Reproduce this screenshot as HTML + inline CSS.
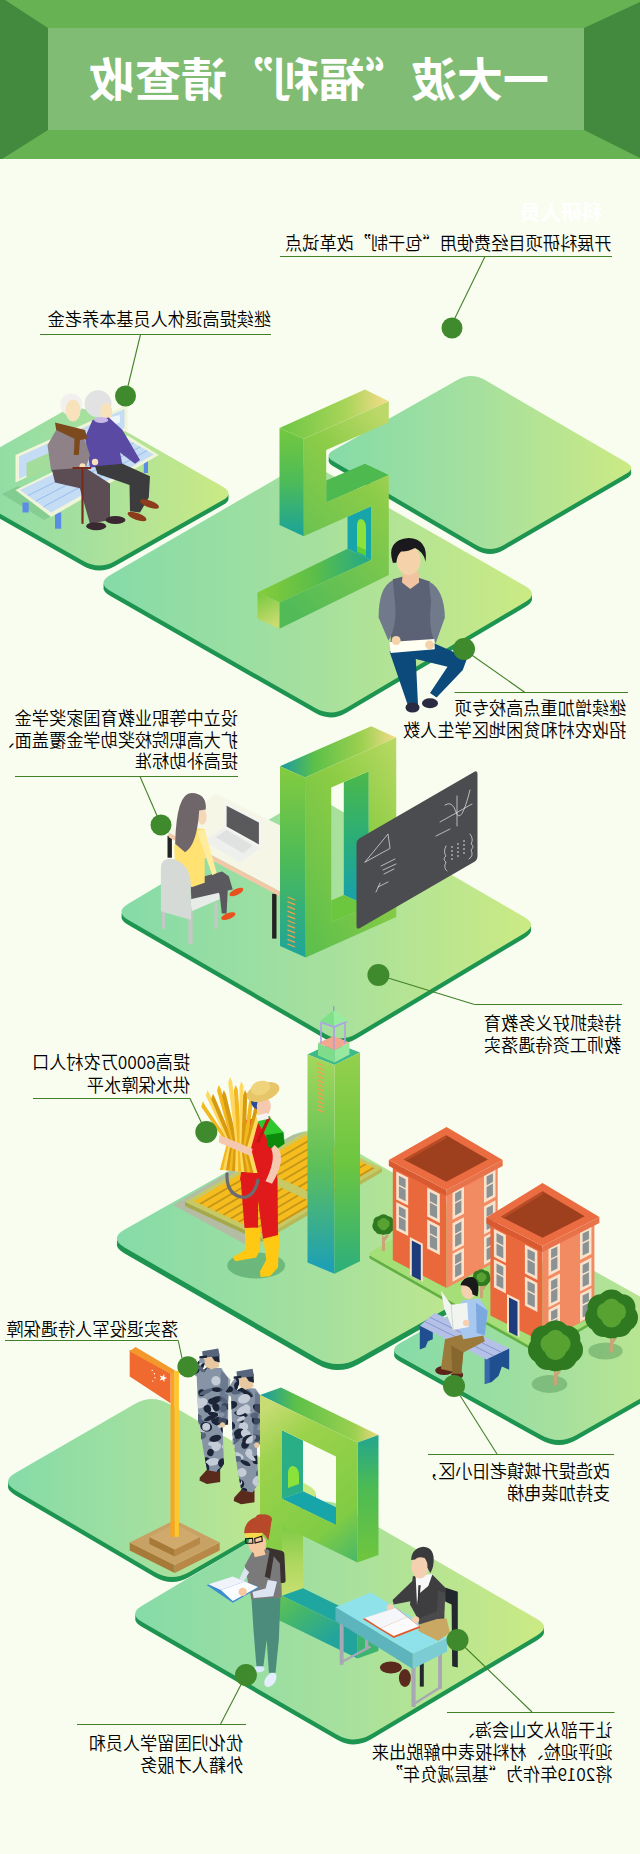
<!DOCTYPE html>
<html lang="zh"><head><meta charset="utf-8"><title>一大波“福利”请查收</title>
<style>
html,body{margin:0;padding:0;background:#f9fdf0;}
body{width:640px;height:1854px;overflow:hidden;position:relative;font-family:"Liberation Sans","Noto Sans CJK SC",sans-serif;}
svg{display:block;position:absolute;left:0;top:0;}
svg text{font-family:"Liberation Sans","Noto Sans CJK SC",sans-serif;}
svg text .q{font-family:"Noto Sans CJK SC",sans-serif;}
</style></head><body>
<svg width="640" height="1854" viewBox="0 0 640 1854">
<defs>
<linearGradient id="pg" x1="0" y1="0" x2="1" y2="0"><stop offset="0" stop-color="#86dba8"/><stop offset="0.5" stop-color="#a6e09e"/><stop offset="1" stop-color="#cbea84"/></linearGradient>
<linearGradient id="g2" x1="0.8" y1="0" x2="0.3" y2="1"><stop offset="0" stop-color="#bcd868"/><stop offset="0.3" stop-color="#8ccc48"/><stop offset="1" stop-color="#52bb58"/></linearGradient>
<linearGradient id="g3" x1="0" y1="0" x2="1" y2="0"><stop offset="0" stop-color="#6cc644"/><stop offset="0.6" stop-color="#a8d458"/><stop offset="1" stop-color="#f6dc8c"/></linearGradient>
<linearGradient id="g4" x1="0" y1="0" x2="0" y2="1"><stop offset="0" stop-color="#74c83e"/><stop offset="0.5" stop-color="#4dbb58"/><stop offset="1" stop-color="#1aa39a"/></linearGradient>
<linearGradient id="g5" x1="0" y1="0" x2="1" y2="0"><stop offset="0" stop-color="#86cc3a"/><stop offset="0.5" stop-color="#5cbe48"/><stop offset="1" stop-color="#22a888"/></linearGradient>
<linearGradient id="g6" x1="0" y1="0" x2="0.3" y2="1"><stop offset="0" stop-color="#74c83c"/><stop offset="1" stop-color="#c8dc70"/></linearGradient>
<linearGradient id="g7" x1="0.9" y1="0" x2="0.2" y2="1"><stop offset="0" stop-color="#b4d860"/><stop offset="0.4" stop-color="#8ccc44"/><stop offset="1" stop-color="#60c04c"/></linearGradient>
<linearGradient id="g8" x1="0" y1="0" x2="1" y2="0"><stop offset="0" stop-color="#1a9aa4"/><stop offset="0.3" stop-color="#5cc048"/><stop offset="0.7" stop-color="#9cd050"/><stop offset="1" stop-color="#f2dc88"/></linearGradient>
<linearGradient id="g9" x1="0" y1="0" x2="0" y2="1"><stop offset="0" stop-color="#84cc3e"/><stop offset="0.5" stop-color="#4cba58"/><stop offset="1" stop-color="#1ea49a"/></linearGradient>
<linearGradient id="g10" x1="0" y1="0" x2="0" y2="1"><stop offset="0" stop-color="#4cb848"/><stop offset="0.5" stop-color="#2aae78"/><stop offset="1" stop-color="#179fb0"/></linearGradient>
<linearGradient id="g11" x1="0" y1="0" x2="0" y2="1"><stop offset="0" stop-color="#a4d85c"/><stop offset="0.5" stop-color="#5ec058"/><stop offset="1" stop-color="#1a9eba"/></linearGradient>
<linearGradient id="g12" x1="0" y1="0" x2="0" y2="1"><stop offset="0" stop-color="#94d04c"/><stop offset="0.5" stop-color="#6cc640"/><stop offset="1" stop-color="#2cae7c"/></linearGradient>
<clipPath id="sc1"><polygon points="199.4,1421.6 222.5,1424.4 223.9,1463.7 218.3,1472.2 207,1469.9 202.8,1446.9"/><polygon points="196.6,1373.7 207,1367.6 221.1,1368.1 228.1,1378 228.1,1424.4 198.6,1424.4"/><polygon points="221.1,1370.9 230.4,1379.4 225.9,1424.4 218.3,1423"/><polygon points="190.4,1372.6 201.4,1356.9 206.2,1359.7 199.4,1378"/></clipPath>
<clipPath id="sc2"><polygon points="233.7,1441.8 256.8,1444.6 258.2,1484 252.6,1492.4 241.3,1490.2 237.1,1467.1"/><polygon points="230.9,1394 241.3,1387.8 255.4,1388.4 262.4,1398.2 262.4,1444.6 232.9,1444.6"/><polygon points="255.4,1391.2 264.7,1399.6 260.2,1444.6 252.6,1443.2"/><polygon points="224.7,1392.9 235.7,1377.1 240.5,1379.9 233.7,1398.2"/></clipPath>
<linearGradient id="g13" x1="0.1" y1="0" x2="0.6" y2="1"><stop offset="0" stop-color="#c4dc70"/><stop offset="0.3" stop-color="#9cd24c"/><stop offset="1" stop-color="#66c244"/></linearGradient>
<linearGradient id="g14" x1="0" y1="0" x2="1" y2="0"><stop offset="0" stop-color="#1a9aa4"/><stop offset="0.3" stop-color="#5cc048"/><stop offset="0.8" stop-color="#9cd050"/><stop offset="1" stop-color="#ecd880"/></linearGradient>
<linearGradient id="g15" x1="0" y1="0" x2="0" y2="1"><stop offset="0" stop-color="#22a68e"/><stop offset="0.4" stop-color="#4cba54"/><stop offset="1" stop-color="#70c63e"/></linearGradient>
<linearGradient id="g16" x1="0" y1="0" x2="0" y2="1"><stop offset="0" stop-color="#74c840"/><stop offset="0.6" stop-color="#b0d860"/><stop offset="1" stop-color="#c8e070"/></linearGradient>
<linearGradient id="g17" x1="0.2" y1="0" x2="0.5" y2="1"><stop offset="0" stop-color="#c8dc74"/><stop offset="0.2" stop-color="#9cd24c"/><stop offset="0.6" stop-color="#80cc44"/><stop offset="0.8" stop-color="#48b868"/><stop offset="1" stop-color="#22a49c"/></linearGradient>
</defs>
<rect x="0" y="0" width="640" height="159" fill="#67b252"/>
<rect x="48" y="28" width="536" height="102" fill="#80bc74"/>
<polygon points="0,0 5,0 48,28 48,130 2,159 0,159" fill="#43893e"/>
<polygon points="584,28 640,2 640,158 584,130" fill="#43893e"/>
<text transform="translate(319,96) scale(-1,1)" font-size="46" font-weight="700" fill="#fff" text-anchor="middle">一大波<tspan class="q">“</tspan>福利<tspan class="q">”</tspan>请查收</text>
<path d="M333.3 466.3Q323.8 460.7 333.4 455.3L457.3 384.9Q471.2 377 485.1 385.1L626.5 467.5Q636 473 626.5 478.5L503.8 549.9Q490 558 476.2 549.9ZM333.3 463.8Q323.8 458.2 333.4 452.8L457.3 382.4Q471.2 374.5 485.1 382.6L626.5 465Q636 470.5 626.5 476L503.8 547.4Q490 555.5 476.2 547.4Z" fill="#1d9450"/>
<path d="M333.3 461.3Q323.8 455.7 333.4 450.3L457.3 379.9Q471.2 372 485.1 380.1L626.5 462.5Q636 468 626.5 473.5L503.8 544.9Q490 553 476.2 544.9Z" fill="url(#pg)"/>
<path d="M-46.5 492.2Q-58.7 485.3 -46.5 478.4L61.3 417.5Q77 408.7 92.6 417.6L222.5 491.5Q234.7 498.4 222.5 505.3L114.7 566.2Q99 575 83.4 566.1ZM-46.5 489.7Q-58.7 482.8 -46.5 475.9L61.3 415Q77 406.2 92.6 415.1L222.5 489Q234.7 495.9 222.5 502.8L114.7 563.7Q99 572.5 83.4 563.6Z" fill="#1d9450"/>
<path d="M-46.5 487.2Q-58.7 480.3 -46.5 473.4L61.3 412.5Q77 403.7 92.6 412.6L222.5 486.5Q234.7 493.4 222.5 500.3L114.7 561.2Q99 570 83.4 561.1Z" fill="url(#pg)"/>
<polygon points="2,494 18,486 62,510 44,520" fill="#6cb87c" opacity="0.45"/>
<rect x="22.5" y="502.5" width="6.2" height="10" fill="#5c8ce4"/>
<rect x="55" y="512.5" width="6.2" height="16.2" fill="#5c8ce4"/>
<rect x="143.8" y="460" width="4.2" height="13" fill="#5c8ce4"/>
<rect x="123.8" y="445" width="3.8" height="10" fill="#5c8ce4"/>
<polygon points="15.5,455 127.5,404.5 127.5,430 15.5,482.5" fill="#f0f4d8"/>
<polygon points="19,456.5 124.5,409 124.5,428 19,479" fill="#c4dcf4"/>
<polygon points="26.5,463 52.5,451.2 52.5,467.5 26.5,479.5" fill="#a4dc9c"/>
<polygon points="92.5,421.2 120,415 120,422.5 92.5,431.2" fill="#eef6fc"/>
<polygon points="15.5,490 51.2,517 158.8,455 127.5,435.5" fill="#f0f4d8"/>
<polygon points="20,490 51.2,512.5 153.8,454.5 127,439" fill="#c4dcf4"/>
<line x1="27.8" y1="495.6" x2="133.7" y2="442.9" stroke="#8cb4ec" stroke-width="0.8"/>
<line x1="35.6" y1="501.2" x2="140.4" y2="446.8" stroke="#8cb4ec" stroke-width="0.8"/>
<line x1="43.4" y1="506.9" x2="147.1" y2="450.6" stroke="#8cb4ec" stroke-width="0.8"/>
<circle cx="98" cy="403.8" r="13.5" fill="#e2e2e2"/>
<ellipse cx="106.2" cy="412" rx="6" ry="9" fill="#f8e2bc"/>
<polygon points="92.5,420 108.8,417.5 122.5,430 140,460 135,463.8 120,452.5 122.5,465 90,467.5 85,437.5" fill="#5a4aa4"/>
<ellipse cx="101.2" cy="420" rx="7" ry="3" fill="#c8b8e8"/>
<polygon points="95,466.2 122.5,463.8 150,476.2 148.8,497.5 140,512.5 130,511.2 129.5,485 97.5,473.8" fill="#3c3c3e"/>
<ellipse cx="137" cy="516.5" rx="10" ry="3.5" fill="#8c3c1c" transform="rotate(20 137 516.5)"/>
<ellipse cx="149.5" cy="504" rx="10" ry="3.5" fill="#8c3c1c" transform="rotate(20 149.5 504)"/>
<circle cx="71.2" cy="404.5" r="11" fill="#f2f0ee"/>
<ellipse cx="73" cy="410.5" rx="7.5" ry="11" fill="#f8e2bc"/>
<polygon points="56.2,430 82.5,433.8 90,455 85,470 51.2,471.2 47.5,445" fill="#8e8288"/>
<polygon points="55,422.5 85,430 87.5,438.8 80,440 78.8,455 73.8,455 74.5,438.8 56.2,430" fill="#7c4a1c"/>
<polygon points="52,470 85,467.5 110,483.8 110,520 90,523.8 87.5,490 55,482.5" fill="#5c4c54"/>
<polygon points="77.5,480 95,478.8 97.5,520 90,523.8" fill="#5c4c54"/>
<ellipse cx="96.2" cy="526.2" rx="10" ry="4" fill="#3a2830"/>
<ellipse cx="115.5" cy="520" rx="10" ry="4" fill="#3a2830"/>
<circle cx="95" cy="462" r="3.2" fill="#f8e2bc"/>
<circle cx="82.5" cy="466.2" r="3" fill="#f8e2bc"/>
<line x1="82.5" y1="468" x2="82.5" y2="523.8" stroke="#7c2a1c" stroke-width="2.2"/>
<line x1="72.5" y1="468" x2="91.2" y2="468" stroke="#7c2a1c" stroke-width="2"/>
<path d="M110.4 595.9Q96.5 588 110.3 580L291.4 475Q307 466 322.6 475L525.1 591Q539 599 525.2 607.1L346.5 712.8Q331 722 315.4 713.1ZM110.4 593.4Q96.5 585.5 110.3 577.5L291.4 472.5Q307 463.5 322.6 472.5L525.1 588.5Q539 596.5 525.2 604.6L346.5 710.3Q331 719.5 315.4 710.6Z" fill="#1d9450"/>
<path d="M110.4 590.9Q96.5 583 110.3 575L291.4 470Q307 461 322.6 470L525.1 586Q539 594 525.2 602.1L346.5 707.8Q331 717 315.4 708.1Z" fill="url(#pg)"/>
<polygon points="303.8,438.8 388.8,401.2 365,389.5 279.5,428" fill="url(#g3)"/>
<polygon points="279.5,428 303.8,438.8 303.8,536.2 279.5,525" fill="url(#g4)"/>
<polygon points="326.2,502.5 388.8,475 365,463.8 326.2,480.5" fill="#4db94e"/>
<polygon points="347.5,516.8 371.2,506.2 371.2,560 347.5,548.8" fill="#18a5aa"/>
<path d="M357,546 L357,527 Q357,519 361,519 Q366,520 366,528 L366,556 Z" fill="#8be23a"/>
<path d="M357,546 L366,550 L366,556 L357,552Z" fill="#5fd02e"/>
<polygon points="279.5,602.5 371.2,560 347.5,548.8 257.5,592.5" fill="url(#g5)"/>
<polygon points="257.5,592.5 279.5,602.5 279.5,628.8 257.5,618.8" fill="url(#g6)"/>
<polygon points="303.8,438.8 388.8,401.2 388.8,422.5 326.2,450 326.2,502.5 388.8,475 388.8,575 279.5,628.8 279.5,602.5 371.2,560 371.2,506.2 303.8,536.2" fill="url(#g2)"/>
<polygon points="389.5,651.4 425.6,639.4 467.2,658 462.8,670 436.6,697.4 430,693 447.5,666.7 415.8,659.1 418,705 408.1,706.1" fill="#0c4a7c"/>
<ellipse cx="412.5" cy="707.6" rx="7" ry="5" fill="#2a2a42"/>
<ellipse cx="430" cy="703.3" rx="8" ry="5" fill="#2a2a42"/>
<polygon points="392.8,579.2 409.2,574.8 430,581.4 433.9,640.5 390.6,642.7" fill="#5c6276"/>
<path d="M392.8 580.3 Q378.6 586.9 378.6 617.5 L388.4 640.5 Q397.2 626.3 395 602.2 Z" fill="#707a8a"/>
<path d="M428.9 581.4 Q444.2 589.1 444.9 617.5 L435.5 643.8 Q427.8 628.4 431.1 602.2 Z" fill="#707a8a"/>
<polygon points="402.7,571.6 418.6,571.6 419.1,582.5 410.3,589.1 402,582.5" fill="#f0c4a0"/>
<ellipse cx="408.6" cy="560.6" rx="12" ry="14.5" fill="#f5d2aa"/>
<path d="M392.8 562.8 Q385.8 539.8 408.6 537.9 Q428.3 538.8 425.6 561.7 Q423.9 551.9 415.1 547.9 Q407 551.9 401.1 551.4 Q397.2 554.5 396.3 562.8 Z" fill="#1a1a1e"/>
<polygon points="389.5,642 434.4,638.9 434.8,649.2 390.6,652.9" fill="#fffff2"/>
<circle cx="396.1" cy="640.5" r="4.5" fill="#f5d2aa"/>
<circle cx="429.6" cy="644.9" r="4.5" fill="#f5d2aa"/>
<path d="M128.4 925Q114.6 917 128.3 908.8L296.5 808.2Q312 799 327.6 808L524.2 922Q538 930 524.3 938.2L356.4 1038.8Q341 1048 325.4 1039ZM128.4 922.5Q114.6 914.5 128.3 906.3L296.5 805.7Q312 796.5 327.6 805.5L524.2 919.5Q538 927.5 524.3 935.7L356.4 1036.3Q341 1045.5 325.4 1036.5Z" fill="#1d9450"/>
<path d="M128.4 920Q114.6 912 128.3 903.8L296.5 803.2Q312 794 327.6 803L524.2 917Q538 925 524.3 933.2L356.4 1033.8Q341 1043 325.4 1034Z" fill="url(#pg)"/>
<rect x="167.5" y="835.8" width="4.4" height="21.9" fill="#222"/>
<rect x="272.1" y="893.8" width="4.4" height="44.8" fill="#222"/>
<polygon points="168.6,832.5 215.6,793.6 294.4,832.5 294.4,899.2 279.1,891.1" fill="#f6f6e6"/>
<polygon points="168.6,832.5 279.1,891.1 279.1,895.9 168.6,837.3" fill="#f2c8a8"/>
<polygon points="204.7,841.3 225.5,826.4 260.5,848.3 239.7,862.7" fill="#eef0ee"/>
<polygon points="215.6,837.3 226.6,829.9 252.8,845.6 243,853.3" fill="#dfe2e0"/>
<polygon points="224.4,801.9 261.1,820.5 261.1,847.4 224.4,827.7" fill="#f4f4f2"/>
<polygon points="226.6,805.8 258.9,822.4 258.9,844.5 226.6,826.4" fill="#5a5a5c"/>
<rect x="162" y="902.5" width="3.3" height="26.3" fill="#c4c8c4"/>
<rect x="188.3" y="911.3" width="4.4" height="32.8" fill="#c4c8c4"/>
<rect x="214.5" y="902.5" width="3.3" height="26.3" fill="#c4c8c4"/>
<polygon points="190.5,885 204.7,876.3 222.2,871.4 228.8,876.3 232.7,889.4 227.7,890.5 226.6,913.5 221.8,913.5 219.6,893.8 204.7,899.2 191.6,901.4" fill="#5a5a5e"/>
<ellipse cx="236.4" cy="892" rx="7.5" ry="3" fill="#e8501e" transform="rotate(-25 236.4 892)"/>
<ellipse cx="228.3" cy="916.1" rx="7.5" ry="3" fill="#e8501e" transform="rotate(-20 228.3 916.1)"/>
<polygon points="190.5,899.2 218.9,892.7 219.6,899.2 191.6,911.3" fill="#e8ece8"/>
<polygon points="174.1,845.6 189.4,827 204.7,829.2 204.7,882.8 191.6,887.2 175.2,867.5" fill="#ffe272"/>
<polygon points="197,831.4 204.7,829.2 216.7,873 212.3,875.2" fill="#ffec9c"/>
<ellipse cx="202.1" cy="816.8" rx="4.5" ry="8" fill="#f5d8b8"/>
<path d="M175.2 843.4 Q176.3 793.1 191.6 793.1 Q206.9 793.6 205.8 809.5 L199.2 810.6 Q197 845.6 185 852.2 Q175.2 843.4 174.5 843.4 Z" fill="#6e6668"/>
<path d="M160.9 911.3 L160.9 867.5 Q161.4 857 174.1 859.2 Q189.4 864.2 190.7 882.8 L191.1 920 Z" fill="#d6dad6"/>
<polygon points="305,777.5 396.2,737.5 371.2,726.2 280,766.2" fill="url(#g8)"/>
<polygon points="280,766.2 305,777.5 305.8,957.5 280,946" fill="url(#g9)"/>
<polygon points="343.8,782.1 368.8,771.2 368.8,906.2 343.8,895" fill="url(#g10)"/>
<polygon points="331.2,922.5 368.8,906.2 343.8,895 331.2,900.4" fill="#6cc63e"/>
<path d="M305,777.5L396.25,737.5L396.25,917L305.75,957.5Z M331.25,787.5L331.25,922.5L368.75,906.25L368.75,771.25Z" fill="url(#g7)" fill-rule="evenodd"/>
<line x1="287.5" y1="897" x2="295" y2="900" stroke="#f0a050" stroke-width="1.3"/>
<line x1="287.5" y1="901.7" x2="295" y2="904.7" stroke="#f0a050" stroke-width="1.3"/>
<line x1="287.5" y1="906.4" x2="295" y2="909.4" stroke="#f0a050" stroke-width="1.3"/>
<line x1="287.5" y1="911.1" x2="295" y2="914.1" stroke="#f0a050" stroke-width="1.3"/>
<line x1="287.5" y1="915.8" x2="295" y2="918.8" stroke="#f0a050" stroke-width="1.3"/>
<line x1="287.5" y1="920.5" x2="295" y2="923.5" stroke="#f0a050" stroke-width="1.3"/>
<line x1="287.5" y1="925.2" x2="295" y2="928.2" stroke="#f0a050" stroke-width="1.3"/>
<line x1="287.5" y1="929.9" x2="295" y2="932.9" stroke="#f0a050" stroke-width="1.3"/>
<line x1="287.5" y1="934.6" x2="295" y2="937.6" stroke="#f0a050" stroke-width="1.3"/>
<line x1="287.5" y1="939.3" x2="295" y2="942.3" stroke="#f0a050" stroke-width="1.3"/>
<line x1="287.5" y1="944" x2="295" y2="947" stroke="#f0a050" stroke-width="1.3"/>
<path d="M356.5 844Q356.5 840 360 838L474 772Q477.5 770 477.5 774L477.5 856Q477.5 860 474 862L360 928Q356.5 930 356.5 926Z" fill="#4b4c4f"/>
<path d="M365,862 L388,834 L390,848 Z" fill="none" stroke="#e8e8e8" stroke-width="0.7" fill="none" stroke-linecap="round"/>
<path d="M381,866 l14,-7 M383,870 l13,-6 M384,874 l10,-5" fill="none" stroke="#e8e8e8" stroke-width="0.7" fill="none" stroke-linecap="round"/>
<path d="M376,892 l4,-9 M378,887 l10,-5" fill="none" stroke="#e8e8e8" stroke-width="0.7" fill="none" stroke-linecap="round"/>
<path d="M440,822 L472,804 M457,796 L457,826" fill="none" stroke="#e8e8e8" stroke-width="0.7" fill="none" stroke-linecap="round"/>
<path d="M445,805 Q452,800 456,812 Q461,826 470,790" fill="none" stroke="#e8e8e8" stroke-width="0.7" fill="none" stroke-linecap="round"/>
<path d="M436,836 l14,-7" fill="none" stroke="#e8e8e8" stroke-width="0.7" fill="none" stroke-linecap="round"/>
<path d="M446,846 q-3,6 0,10 q-4,3 0,6 q-3,6 1,9" fill="none" stroke="#e8e8e8" stroke-width="0.7" fill="none" stroke-linecap="round"/>
<path d="M470,834 q4,5 1,10 q4,2 0,6 q3,6 -2,9" fill="none" stroke="#e8e8e8" stroke-width="0.7" fill="none" stroke-linecap="round"/>
<path d="M452,846 l0,14 M458,843 l0,14 M464,840 l0,14" fill="none" stroke="#e8e8e8" stroke-width="0.9" fill="none" stroke-dasharray="2 2"/>
<path d="M124.6 1253.5Q109 1244.5 124.7 1235.6L289.1 1142.8Q310 1131 330.8 1143L523 1253.5Q538.6 1262.5 522.9 1271.4L358.5 1364.2Q337.6 1376 316.8 1364ZM124.6 1250.5Q109 1241.5 124.7 1232.6L289.1 1139.8Q310 1128 330.8 1140L523 1250.5Q538.6 1259.5 522.9 1268.4L358.5 1361.2Q337.6 1373 316.8 1361Z" fill="#1d9450"/>
<path d="M124.6 1247.5Q109 1238.5 124.7 1229.6L289.1 1136.8Q310 1125 330.8 1137L523 1247.5Q538.6 1256.5 522.9 1265.4L358.5 1358.2Q337.6 1370 316.8 1358Z" fill="url(#pg)"/>
<polygon points="173,1205 293,1135 305,1132 185,1202 262,1244 252,1248" fill="#b4bca4"/>
<polygon points="185,1202 305,1132 382,1168 262,1238" fill="#c8c864"/>
<polygon points="185,1202 262,1238 262,1242 185,1206" fill="#a8a848"/>
<polygon points="262,1238 382,1168 382,1172 262,1242" fill="#b8b854"/>
<polygon points="193.7,1201 245.2,1170.9 250.8,1173.5 199.2,1203.6" fill="#f6bc1c"/>
<polygon points="199.2,1203.6 250.8,1173.5 253,1174.5 201.4,1204.6" fill="#cc9410"/>
<polygon points="201.4,1204.6 253,1174.5 258.5,1177.1 206.9,1207.2" fill="#f6bc1c"/>
<polygon points="206.9,1207.2 258.5,1177.1 260.7,1178.1 209.1,1208.2" fill="#cc9410"/>
<polygon points="209.1,1208.2 260.6,1178.1 266.2,1180.7 214.6,1210.8" fill="#f6bc1c"/>
<polygon points="214.6,1210.8 266.2,1180.7 268.4,1181.7 216.8,1211.8" fill="#cc9410"/>
<polygon points="216.8,1211.8 268.4,1181.7 273.9,1184.3 222.3,1214.4" fill="#f6bc1c"/>
<polygon points="222.3,1214.4 273.9,1184.3 276.1,1185.3 224.5,1215.4" fill="#cc9410"/>
<polygon points="224.5,1215.4 276.1,1185.3 281.6,1187.9 230,1218" fill="#f6bc1c"/>
<polygon points="230,1218 281.6,1187.9 283.8,1188.9 232.2,1219" fill="#cc9410"/>
<polygon points="232.2,1219 283.8,1188.9 289.3,1191.5 237.7,1221.6" fill="#f6bc1c"/>
<polygon points="237.7,1221.6 289.3,1191.5 291.4,1192.5 239.9,1222.6" fill="#cc9410"/>
<polygon points="239.9,1222.6 291.5,1192.5 297,1195.1 245.4,1225.2" fill="#f6bc1c"/>
<polygon points="245.4,1225.2 297,1195.1 299.2,1196.1 247.6,1226.2" fill="#cc9410"/>
<polygon points="247.6,1226.2 299.2,1196.1 304.7,1198.7 253.1,1228.8" fill="#f6bc1c"/>
<polygon points="253.1,1228.8 304.7,1198.7 306.9,1199.7 255.2,1229.8" fill="#cc9410"/>
<polygon points="255.2,1229.8 306.9,1199.7 312.4,1202.3 260.8,1232.4" fill="#f6bc1c"/>
<polygon points="260.8,1232.4 312.4,1202.3 314.6,1203.3 263,1233.4" fill="#cc9410"/>
<polygon points="253.7,1166 305.2,1135.9 310.8,1138.5 259.2,1168.6" fill="#f6bc1c"/>
<polygon points="259.2,1168.6 310.8,1138.5 312.9,1139.5 261.4,1169.6" fill="#cc9410"/>
<polygon points="261.4,1169.6 312.9,1139.5 318.5,1142.1 266.9,1172.2" fill="#f6bc1c"/>
<polygon points="266.9,1172.2 318.5,1142.1 320.6,1143.1 269.1,1173.2" fill="#cc9410"/>
<polygon points="269.1,1173.2 320.6,1143.1 326.2,1145.7 274.6,1175.8" fill="#f6bc1c"/>
<polygon points="274.6,1175.8 326.2,1145.7 328.3,1146.7 276.8,1176.8" fill="#cc9410"/>
<polygon points="276.8,1176.8 328.3,1146.7 333.9,1149.3 282.3,1179.4" fill="#f6bc1c"/>
<polygon points="282.3,1179.4 333.9,1149.3 336,1150.3 284.5,1180.4" fill="#cc9410"/>
<polygon points="284.4,1180.4 336,1150.3 341.6,1152.9 290,1183" fill="#f6bc1c"/>
<polygon points="290,1183 341.6,1152.9 343.8,1153.9 292.2,1184" fill="#cc9410"/>
<polygon points="292.2,1184 343.8,1153.9 349.3,1156.5 297.7,1186.6" fill="#f6bc1c"/>
<polygon points="297.7,1186.6 349.3,1156.5 351.4,1157.5 299.9,1187.6" fill="#cc9410"/>
<polygon points="299.9,1187.6 351.4,1157.5 357,1160.1 305.4,1190.2" fill="#f6bc1c"/>
<polygon points="305.4,1190.2 357,1160.1 359.1,1161.1 307.6,1191.2" fill="#cc9410"/>
<polygon points="307.6,1191.2 359.1,1161.1 364.7,1163.7 313.1,1193.8" fill="#f6bc1c"/>
<polygon points="313.1,1193.8 364.7,1163.7 366.8,1164.7 315.2,1194.8" fill="#cc9410"/>
<polygon points="315.2,1194.8 366.8,1164.7 372.4,1167.3 320.8,1197.4" fill="#f6bc1c"/>
<polygon points="320.8,1197.4 372.4,1167.3 374.5,1168.3 323,1198.4" fill="#cc9410"/>
<polygon points="307.5,1054.5 334.5,1065 360,1052.5 333,1042" fill="#3fb88a"/>
<polygon points="307.5,1054.5 334.5,1065 334.5,1273.8 307.5,1262.5" fill="url(#g11)"/>
<polygon points="334.5,1065 360,1052.5 360,1261.2 334.5,1273.8" fill="url(#g12)"/>
<line x1="317" y1="1063" x2="323.5" y2="1066" stroke="#f0a050" stroke-width="1.3"/>
<line x1="317" y1="1067.2" x2="323.5" y2="1070.2" stroke="#f0a050" stroke-width="1.3"/>
<line x1="317" y1="1071.4" x2="323.5" y2="1074.4" stroke="#f0a050" stroke-width="1.3"/>
<line x1="317" y1="1075.6" x2="323.5" y2="1078.6" stroke="#f0a050" stroke-width="1.3"/>
<line x1="317" y1="1079.8" x2="323.5" y2="1082.8" stroke="#f0a050" stroke-width="1.3"/>
<line x1="317" y1="1084" x2="323.5" y2="1087" stroke="#f0a050" stroke-width="1.3"/>
<line x1="317" y1="1088.2" x2="323.5" y2="1091.2" stroke="#f0a050" stroke-width="1.3"/>
<line x1="317" y1="1092.4" x2="323.5" y2="1095.4" stroke="#f0a050" stroke-width="1.3"/>
<line x1="317" y1="1096.6" x2="323.5" y2="1099.6" stroke="#f0a050" stroke-width="1.3"/>
<line x1="317" y1="1100.8" x2="323.5" y2="1103.8" stroke="#f0a050" stroke-width="1.3"/>
<line x1="317" y1="1105" x2="323.5" y2="1108" stroke="#f0a050" stroke-width="1.3"/>
<line x1="317" y1="1109.2" x2="323.5" y2="1112.2" stroke="#f0a050" stroke-width="1.3"/>
<polygon points="318,1043 334.5,1050 334.5,1062.5 318,1055.5" fill="#7fdc8a"/>
<polygon points="334.5,1050 349.5,1042.5 349.5,1054.5 334.5,1062.5" fill="#98e8a0"/>
<polygon points="318,1043 334.5,1050 349.5,1042.5 333.8,1036" fill="#f0a890"/>
<line x1="321" y1="1023" x2="321" y2="1043.5" stroke="#b0a0e8" stroke-width="1.6"/>
<line x1="333.8" y1="1023" x2="333.8" y2="1049" stroke="#b0a0e8" stroke-width="1.6"/>
<line x1="345" y1="1023" x2="345" y2="1043.5" stroke="#b0a0e8" stroke-width="1.6"/>
<line x1="333.8" y1="1023" x2="333.8" y2="1038" stroke="#b0a0e8" stroke-width="1.6"/>
<polygon points="319.5,1022.5 333.8,1028 348,1022 333.8,1017" fill="#b0a0e8"/>
<polygon points="320,1021 333.8,1010 333.8,1026" fill="#7fe08a"/>
<polygon points="347.5,1020.5 333.8,1010 333.8,1026" fill="#98eca0"/>
<line x1="333.8" y1="1011" x2="333.8" y2="1006" stroke="#8888c8" stroke-width="1"/>
<ellipse cx="256.2" cy="1265.5" rx="29" ry="13" fill="#58a86c" opacity="0.7"/>
<polygon points="245,1227 260.5,1228 260,1250 256.2,1257.5 235.5,1261.2 232.5,1257.5 245,1250" fill="#ffc812"/>
<polygon points="263,1236.2 279.5,1232.5 278,1267.5 270,1276.2 260.5,1277 260,1271.2 266.2,1260" fill="#ffc812"/>
<polygon points="240.5,1177.5 277.5,1177.5 278,1235 263,1238.8 258,1200 258,1227.5 244.5,1228" fill="#e01a1a"/>
<polygon points="245,1120 270,1116.2 276.2,1142.5 277,1180 240,1180 245,1142.5" fill="#e01a1a"/>
<polygon points="252.5,1121.2 268.8,1116.2 283.8,1132.5 284.5,1143.8 272.5,1147.5 265,1135 258,1122.5 250,1137.5 247.5,1135" fill="#2ec82e"/>
<polygon points="266.2,1135 283,1132.5 284.5,1143.8 275,1150.5 267.5,1146.2" fill="#0c8a0c"/>
<line x1="268.8" y1="1118" x2="257.5" y2="1142.5" stroke="#c81414" stroke-width="3"/>
<path d="M274.5 1145 Q288.8 1155 272 1183.8 L265.5 1181.2 Q276.2 1160 271.2 1148.8 Z" fill="#f5c8b0"/>
<path d="M227 1173.8 Q226.2 1196.2 245 1197.5 Q255 1195 258 1180" fill="none" stroke="#6c6c70" stroke-width="3.2" stroke-linecap="round"/>
<polygon points="203,1101.2 205.2,1105.8 231,1143.8 223.8,1170 219.8,1170 226.8,1143.8 201.2,1106.8" fill="#f2b81e"/>
<polygon points="207.5,1090 209.8,1094.5 232.8,1144.2 226.8,1170.3 222.8,1170.3 228.6,1144.2 205.8,1095.5" fill="#ffd860"/>
<polygon points="213,1093.8 215.2,1098.2 234.6,1144.6 229.9,1170.5 225.9,1170.5 230.4,1144.6 211.2,1099.2" fill="#d89a10"/>
<polygon points="218.8,1085 221,1089.5 236.5,1145 233,1170.8 229,1170.8 232.2,1145 217,1090.5" fill="#f2b81e"/>
<polygon points="223.8,1090 226,1094.5 238.3,1145.4 236,1171.1 232,1171.1 234,1145.4 222,1095.5" fill="#d89a10"/>
<polygon points="230,1077 232.2,1081.5 240.1,1145.8 239.1,1171.4 235.1,1171.4 235.8,1145.8 228.2,1082.5" fill="#ffd860"/>
<polygon points="235.5,1085 237.8,1089.5 241.9,1146.2 242.2,1171.6 238.2,1171.6 237.7,1146.2 233.8,1090.5" fill="#f2b81e"/>
<polygon points="241.2,1081.2 243.5,1085.8 243.7,1146.6 245.2,1171.9 241.2,1171.9 239.5,1146.6 239.5,1086.8" fill="#ffd860"/>
<polygon points="245,1090 247.2,1094.5 245.5,1147 248.3,1172.2 244.3,1172.2 241.3,1147 243.2,1095.5" fill="#d89a10"/>
<polygon points="250.5,1097.5 252.8,1102 247.4,1147.4 251.4,1172.5 247.4,1172.5 243.1,1147.4 248.8,1103" fill="#f2b81e"/>
<polygon points="256.2,1101.2 258.5,1105.8 249.2,1147.8 254.4,1172.7 250.4,1172.7 244.9,1147.8 254.5,1106.8" fill="#d89a10"/>
<polygon points="258,1110 260.2,1114.5 251,1148.2 257.5,1173 253.5,1173 246.8,1148.2 256.2,1115.5" fill="#ffd860"/>
<path d="M219.5 1135 L252.5 1148.8 L251.2 1156.2 L218.8 1142.5 Z" fill="#f5c8b0"/>
<ellipse cx="258" cy="1101.2" rx="7" ry="8" fill="#2a4a9a"/>
<ellipse cx="263.8" cy="1106.5" rx="7" ry="9.5" fill="#f5c8b0"/>
<polygon points="256.2,1115.5 267.5,1113 268.8,1118.8 257.5,1121.2" fill="#f4f4f4"/>
<ellipse cx="263" cy="1092" rx="17" ry="9" fill="#e6c668" transform="rotate(-18 263 1092)"/>
<ellipse cx="260.5" cy="1088" rx="10" ry="7" fill="#f0d47c" transform="rotate(-18 260.5 1088)"/>
<path d="M400.2 1361.8Q388 1355 400.2 1348.1L542.6 1266.9Q560 1257 577.5 1266.7L718.8 1345.2Q731 1352 718.8 1358.9L576.4 1440.1Q559 1450 541.5 1440.3ZM400.2 1359.3Q388 1352.5 400.2 1345.6L542.6 1264.4Q560 1254.5 577.5 1264.2L718.8 1342.7Q731 1349.5 718.8 1356.4L576.4 1437.6Q559 1447.5 541.5 1437.8Z" fill="#1d9450"/>
<path d="M400.2 1356.8Q388 1350 400.2 1343.1L542.6 1261.9Q560 1252 577.5 1261.7L718.8 1340.2Q731 1347 718.8 1353.9L576.4 1435.1Q559 1445 541.5 1435.3Z" fill="url(#pg)"/>
<path d="M371.4 1259.5Q367 1257 371.3 1254.5L435.7 1216.5Q440 1214 444.4 1216.5L608.6 1309.5Q613 1312 608.7 1314.5L544.3 1352.5Q540 1355 535.6 1352.5Z" fill="#62b044"/>
<path d="M371.4 1256.5Q367 1254 371.3 1251.5L435.7 1213.5Q440 1211 444.4 1213.5L608.6 1306.5Q613 1309 608.7 1311.5L544.3 1349.5Q540 1352 535.6 1349.5Z" fill="#a6de78"/>
<path d="M382 1230.5 l0 20.4 l3 0 l0 -9.6 l4 -6 l-2 -1 l-3 3 l-3 -4 l-2 1 z" fill="#c8a476"/>
<circle cx="378" cy="1226.1" r="5.7" fill="#2f7a20"/>
<circle cx="389" cy="1226.1" r="5.7" fill="#2f7a20"/>
<circle cx="383.5" cy="1220.4" r="6.2" fill="#2f7a20"/>
<circle cx="378.9" cy="1221.7" r="5.5" fill="#2f7a20"/>
<circle cx="388.1" cy="1221.7" r="5.5" fill="#2f7a20"/>
<circle cx="383.5" cy="1228.8" r="6.1" fill="#2f7a20"/>
<circle cx="380.2" cy="1228.8" r="5.5" fill="#2f7a20"/>
<circle cx="386.8" cy="1228.8" r="5.5" fill="#2f7a20"/>
<circle cx="381.3" cy="1223.7" r="4" fill="#58a232"/>
<circle cx="385.7" cy="1223.7" r="4" fill="#58a232"/>
<circle cx="383.5" cy="1221.7" r="3.7" fill="#58a232"/>
<circle cx="383.5" cy="1225.9" r="4.4" fill="#58a232"/>
<polygon points="392.8,1164.1 446.5,1192 446.5,1288 392.8,1260.1" fill="#e9693d"/>
<polygon points="446.5,1192 497.7,1164.7 497.7,1260.7 446.5,1288" fill="#f28a62"/>
<polygon points="396.2,1171.4 408.2,1177.6 408.2,1205.6 396.2,1199.4" fill="#f8e2cc"/>
<polygon points="398.9,1175.7 405.6,1179.3 405.6,1201.3 398.9,1197.7" fill="#8a9294"/>
<polygon points="397.2,1183.7 407.2,1188.9 407.2,1190.5 397.2,1185.3" fill="#f8e2cc"/>
<polygon points="396.2,1201.9 408.2,1208.1 408.2,1236.1 396.2,1229.9" fill="#f8e2cc"/>
<polygon points="398.9,1206.2 405.6,1209.8 405.6,1231.8 398.9,1228.2" fill="#8a9294"/>
<polygon points="397.2,1214.2 407.2,1219.4 407.2,1221 397.2,1215.8" fill="#f8e2cc"/>
<polygon points="409.8,1236.9 422.8,1243.7 422.8,1281.7 409.8,1274.9" fill="#f8e2cc"/>
<polygon points="411.8,1240.4 420.8,1245.1 420.8,1280.6 411.8,1275.9" fill="#1d3c7c"/>
<polygon points="427.2,1187.5 439.8,1194 439.8,1223 427.2,1216.5" fill="#f8e2cc"/>
<polygon points="429.9,1191.9 437.1,1195.6 437.1,1218.6 429.9,1214.9" fill="#8a9294"/>
<polygon points="428.2,1200.2 438.8,1205.7 438.8,1207.3 428.2,1201.8" fill="#f8e2cc"/>
<polygon points="427.2,1219.5 439.8,1226 439.8,1255 427.2,1248.5" fill="#f8e2cc"/>
<polygon points="429.9,1223.9 437.1,1227.6 437.1,1250.6 429.9,1246.9" fill="#8a9294"/>
<polygon points="428.2,1232.2 438.8,1237.7 438.8,1239.3 428.2,1233.8" fill="#f8e2cc"/>
<polygon points="452.5,1191.8 464,1185.7 464,1213.7 452.5,1219.8" fill="#f8e2cc"/>
<polygon points="455.1,1193.4 461.4,1190 461.4,1212 455.1,1215.4" fill="#8a9294"/>
<polygon points="453.5,1203 463,1198 463,1199.6 453.5,1204.6" fill="#f8e2cc"/>
<polygon points="452.5,1223.3 464,1217.2 464,1245.2 452.5,1251.3" fill="#f8e2cc"/>
<polygon points="455.1,1224.9 461.4,1221.5 461.4,1243.5 455.1,1246.9" fill="#8a9294"/>
<polygon points="453.5,1234.5 463,1229.5 463,1231.1 453.5,1236.1" fill="#f8e2cc"/>
<polygon points="452.5,1253.8 464,1247.7 464,1275.7 452.5,1281.8" fill="#f8e2cc"/>
<polygon points="455.1,1255.4 461.4,1252 461.4,1274 455.1,1277.4" fill="#8a9294"/>
<polygon points="453.5,1265 463,1260 463,1261.6 453.5,1266.6" fill="#f8e2cc"/>
<polygon points="484,1175 495.5,1168.8 495.5,1196.8 484,1203" fill="#f8e2cc"/>
<polygon points="486.6,1176.6 492.9,1173.2 492.9,1195.2 486.6,1198.6" fill="#8a9294"/>
<polygon points="485,1186.2 494.5,1181.1 494.5,1182.7 485,1187.8" fill="#f8e2cc"/>
<polygon points="484,1206.5 495.5,1200.3 495.5,1228.3 484,1234.5" fill="#f8e2cc"/>
<polygon points="486.6,1208.1 492.9,1204.7 492.9,1226.7 486.6,1230.1" fill="#8a9294"/>
<polygon points="485,1217.7 494.5,1212.6 494.5,1214.2 485,1219.3" fill="#f8e2cc"/>
<polygon points="484,1237 495.5,1230.8 495.5,1258.8 484,1265" fill="#f8e2cc"/>
<polygon points="486.6,1238.6 492.9,1235.2 492.9,1257.2 486.6,1260.6" fill="#8a9294"/>
<polygon points="485,1248.2 494.5,1243.1 494.5,1244.7 485,1249.8" fill="#f8e2cc"/>
<polygon points="388.8,1160 446.5,1190 446.5,1196 388.8,1166" fill="#d95a30"/>
<polygon points="446.5,1190 502.7,1160 502.7,1166 446.5,1196" fill="#e8734a"/>
<polygon points="388.8,1160 446.5,1127 502.7,1160 446.5,1190" fill="#ea6c40"/>
<polygon points="403.6,1159.6 446.3,1135.2 487.9,1159.6 446.3,1181.8" fill="#9e401e"/>
<polygon points="403.6,1159.6 446.3,1135.2 446.3,1138.2 407.6,1160.1" fill="#b84c26"/>
<path d="M480 1282.5 l0 15.6 l3 0 l0 -7.2 l4 -6 l-2 -1 l-3 3 l-3 -4 l-2 1 z" fill="#c8a476"/>
<circle cx="477" cy="1278.9" r="4.7" fill="#2f7a20"/>
<circle cx="486" cy="1278.9" r="4.7" fill="#2f7a20"/>
<circle cx="481.5" cy="1274.2" r="5" fill="#2f7a20"/>
<circle cx="477.7" cy="1275.3" r="4.5" fill="#2f7a20"/>
<circle cx="485.3" cy="1275.3" r="4.5" fill="#2f7a20"/>
<circle cx="481.5" cy="1281.2" r="5" fill="#2f7a20"/>
<circle cx="478.8" cy="1281.2" r="4.5" fill="#2f7a20"/>
<circle cx="484.2" cy="1281.2" r="4.5" fill="#2f7a20"/>
<circle cx="479.7" cy="1276.9" r="3.2" fill="#58a232"/>
<circle cx="483.3" cy="1276.9" r="3.2" fill="#58a232"/>
<circle cx="481.5" cy="1275.3" r="3.1" fill="#58a232"/>
<circle cx="481.5" cy="1278.7" r="3.6" fill="#58a232"/>
<polygon points="490.4,1221.5 542.5,1248 542.5,1342 490.4,1315.5" fill="#e9693d"/>
<polygon points="542.5,1248 594.4,1221.5 594.4,1315.5 542.5,1342" fill="#f28a62"/>
<polygon points="493.9,1228.8 505.9,1234.9 505.9,1262.9 493.9,1256.8" fill="#f8e2cc"/>
<polygon points="496.5,1233.1 503.3,1236.6 503.3,1258.6 496.5,1255.1" fill="#8a9294"/>
<polygon points="494.9,1241.1 504.9,1246.2 504.9,1247.8 494.9,1242.7" fill="#f8e2cc"/>
<polygon points="493.9,1259.3 505.9,1265.4 505.9,1293.4 493.9,1287.3" fill="#f8e2cc"/>
<polygon points="496.5,1263.6 503.3,1267.1 503.3,1289.1 496.5,1285.6" fill="#8a9294"/>
<polygon points="494.9,1271.6 504.9,1276.7 504.9,1278.3 494.9,1273.2" fill="#f8e2cc"/>
<polygon points="524.9,1244.6 537.4,1250.9 537.4,1279.9 524.9,1273.6" fill="#f8e2cc"/>
<polygon points="527.5,1248.9 534.8,1252.6 534.8,1275.6 527.5,1271.9" fill="#8a9294"/>
<polygon points="525.9,1257.2 536.4,1262.6 536.4,1264.2 525.9,1258.8" fill="#f8e2cc"/>
<polygon points="524.9,1276.6 537.4,1282.9 537.4,1311.9 524.9,1305.6" fill="#f8e2cc"/>
<polygon points="527.5,1280.9 534.8,1284.6 534.8,1307.6 527.5,1303.9" fill="#8a9294"/>
<polygon points="525.9,1289.2 536.4,1294.6 536.4,1296.2 525.9,1290.8" fill="#f8e2cc"/>
<polygon points="507,1294 519.5,1300.3 519.5,1337.3 507,1331" fill="#f8e2cc"/>
<polygon points="509,1297.5 517.5,1301.8 517.5,1336.3 509,1332" fill="#1d3c7c"/>
<polygon points="548.5,1247.9 560,1242.1 560,1270.1 548.5,1275.9" fill="#f8e2cc"/>
<polygon points="551.1,1249.6 557.4,1246.4 557.4,1268.4 551.1,1271.6" fill="#8a9294"/>
<polygon points="549.5,1259.2 559,1254.4 559,1256 549.5,1260.8" fill="#f8e2cc"/>
<polygon points="548.5,1279.4 560,1273.6 560,1301.6 548.5,1307.4" fill="#f8e2cc"/>
<polygon points="551.1,1281.1 557.4,1277.9 557.4,1299.9 551.1,1303.1" fill="#8a9294"/>
<polygon points="549.5,1290.7 559,1285.9 559,1287.5 549.5,1292.3" fill="#f8e2cc"/>
<polygon points="548.5,1309.9 560,1304.1 560,1332.1 548.5,1337.9" fill="#f8e2cc"/>
<polygon points="551.1,1311.6 557.4,1308.4 557.4,1330.4 551.1,1333.6" fill="#8a9294"/>
<polygon points="549.5,1321.2 559,1316.4 559,1318 549.5,1322.8" fill="#f8e2cc"/>
<polygon points="580,1231.9 591.5,1226 591.5,1254 580,1259.9" fill="#f8e2cc"/>
<polygon points="582.6,1233.6 588.9,1230.4 588.9,1252.4 582.6,1255.6" fill="#8a9294"/>
<polygon points="581,1243.1 590.5,1238.3 590.5,1239.9 581,1244.7" fill="#f8e2cc"/>
<polygon points="580,1263.4 591.5,1257.5 591.5,1285.5 580,1291.4" fill="#f8e2cc"/>
<polygon points="582.6,1265.1 588.9,1261.9 588.9,1283.9 582.6,1287.1" fill="#8a9294"/>
<polygon points="581,1274.6 590.5,1269.8 590.5,1271.4 581,1276.2" fill="#f8e2cc"/>
<polygon points="580,1293.9 591.5,1288 591.5,1316 580,1321.9" fill="#f8e2cc"/>
<polygon points="582.6,1295.6 588.9,1292.4 588.9,1314.4 582.6,1317.6" fill="#8a9294"/>
<polygon points="581,1305.1 590.5,1300.3 590.5,1301.9 581,1306.7" fill="#f8e2cc"/>
<polygon points="486.4,1217.5 542.5,1246 542.5,1252 486.4,1223.5" fill="#d95a30"/>
<polygon points="542.5,1246 599.4,1217 599.4,1223 542.5,1252" fill="#e8734a"/>
<polygon points="486.4,1217.5 542.5,1183 599.4,1217 542.5,1246" fill="#ea6c40"/>
<polygon points="501.1,1216.7 542.6,1191.2 584.7,1216.3 542.6,1237.8" fill="#9e401e"/>
<polygon points="501.1,1216.7 542.6,1191.2 542.6,1194.2 505.1,1217.2" fill="#b84c26"/>
<polygon points="419.8,1325 432.8,1331.1 432.8,1339.2 427.9,1341.3 425.5,1347.3 419.8,1349.4" fill="#1f4f8f"/>
<polygon points="484.8,1357.5 509.2,1348.6 509.2,1369.7 501.9,1366.4 498.6,1375.8 491.7,1381.9 484.8,1383.9" fill="#1f4f8f"/>
<polygon points="484.8,1357.5 489.7,1359.5 489.7,1381.9 484.8,1383.9" fill="#3a68b0"/>
<polygon points="419.8,1325.8 434.8,1312.8 509.2,1348.6 486.4,1359.5" fill="#b4c0e6"/>
<line x1="424.8" y1="1321.5" x2="493.9" y2="1355.9" stroke="#7c8ccc" stroke-width="0.8"/>
<line x1="429.7" y1="1317.2" x2="501.5" y2="1352.3" stroke="#7c8ccc" stroke-width="0.8"/>
<ellipse cx="444.2" cy="1370.5" rx="9" ry="4.5" fill="#5a2418"/>
<ellipse cx="457.2" cy="1375" rx="6" ry="4" fill="#5a2418"/>
<polygon points="445,1339.2 481.6,1329.1 484.8,1341.3 463.3,1352.6 461.3,1373.8 440.9,1368.9" fill="#9c7a3c"/>
<polygon points="451.1,1345.3 463.3,1352.6 461.3,1373.8 452.3,1373.8" fill="#86682e"/>
<polygon points="461.3,1300.6 479.5,1298.6 487.7,1310.8 484.8,1335.2 463.3,1339.2 457.2,1320.9" fill="#a8c8f0"/>
<polygon points="475.9,1302.7 487.7,1310.8 484.8,1335.2 476.7,1333.1" fill="#7ca8e0"/>
<polygon points="440.9,1290.5 451.1,1304.7 467.3,1302.7 468.6,1327 453.1,1329.9 444.2,1308.8" fill="#f2f4f0"/>
<line x1="451.1" y1="1304.7" x2="453.1" y2="1329.9" stroke="#c8ccc8" stroke-width="0.8"/>
<circle cx="466.1" cy="1323" r="3.2" fill="#f5d0b0"/>
<ellipse cx="468.6" cy="1289.3" rx="7.5" ry="10" fill="#f5d0b0"/>
<path d="M460.4 1285.2 Q463.3 1276.3 472.6 1277.1 Q480.8 1280.3 477.5 1296.6 L472.6 1294.5 Q471.4 1284.4 460.4 1285.2 Z" fill="#1a1a1a"/>
<ellipse cx="549.5" cy="1384" rx="17.8" ry="8.9" fill="#5a9c5c" opacity="0.5"/>
<path d="M554 1360.5 l0 24.8 l3 0 l0 -8.4 l4 -6 l-2 -1 l-3 3 l-3 -4 l-2 1 z" fill="#c8a476"/>
<circle cx="542" cy="1349.7" r="14" fill="#2f7a20"/>
<circle cx="569" cy="1349.7" r="14" fill="#2f7a20"/>
<circle cx="555.5" cy="1335.7" r="15.1" fill="#2f7a20"/>
<circle cx="544.2" cy="1338.9" r="13.5" fill="#2f7a20"/>
<circle cx="566.8" cy="1338.9" r="13.5" fill="#2f7a20"/>
<circle cx="555.5" cy="1356.5" r="14.9" fill="#2f7a20"/>
<circle cx="547.4" cy="1356.5" r="13.5" fill="#2f7a20"/>
<circle cx="563.6" cy="1356.5" r="13.5" fill="#2f7a20"/>
<circle cx="550.1" cy="1343.8" r="9.7" fill="#58a232"/>
<circle cx="560.9" cy="1343.8" r="9.7" fill="#58a232"/>
<circle cx="555.5" cy="1338.9" r="9.2" fill="#58a232"/>
<circle cx="555.5" cy="1349.2" r="10.8" fill="#58a232"/>
<ellipse cx="605.5" cy="1351" rx="17.2" ry="8.6" fill="#5a9c5c" opacity="0.5"/>
<path d="M610 1328 l0 24.4 l3 0 l0 -8.4 l4 -6 l-2 -1 l-3 3 l-3 -4 l-2 1 z" fill="#c8a476"/>
<circle cx="598.5" cy="1317.6" r="13.5" fill="#2f7a20"/>
<circle cx="624.5" cy="1317.6" r="13.5" fill="#2f7a20"/>
<circle cx="611.5" cy="1304.1" r="14.6" fill="#2f7a20"/>
<circle cx="600.6" cy="1307.2" r="13" fill="#2f7a20"/>
<circle cx="622.4" cy="1307.2" r="13" fill="#2f7a20"/>
<circle cx="611.5" cy="1324.1" r="14.3" fill="#2f7a20"/>
<circle cx="603.7" cy="1324.1" r="13" fill="#2f7a20"/>
<circle cx="619.3" cy="1324.1" r="13" fill="#2f7a20"/>
<circle cx="606.3" cy="1311.9" r="9.4" fill="#58a232"/>
<circle cx="616.7" cy="1311.9" r="9.4" fill="#58a232"/>
<circle cx="611.5" cy="1307.2" r="8.8" fill="#58a232"/>
<circle cx="611.5" cy="1317.1" r="10.4" fill="#58a232"/>
<path d="M15.3 1495.2Q0.6 1486.6 15.3 1478.1L134.7 1409Q152 1399 169.3 1409.1L308.7 1490.8Q323.4 1499.4 308.7 1507.9L189.3 1577Q172 1587 154.7 1576.9ZM15.3 1492.7Q0.6 1484.1 15.3 1475.6L134.7 1406.5Q152 1396.5 169.3 1406.6L308.7 1488.3Q323.4 1496.9 308.7 1505.4L189.3 1574.5Q172 1584.5 154.7 1574.4Z" fill="#1d9450"/>
<path d="M15.3 1490.2Q0.6 1481.6 15.3 1473.1L134.7 1404Q152 1394 169.3 1404.1L308.7 1485.8Q323.4 1494.4 308.7 1502.9L189.3 1572Q172 1582 154.7 1571.9Z" fill="url(#pg)"/>
<polygon points="129.7,1542.5 174.7,1565 174.7,1573 129.7,1550.5" fill="#a87a3a"/>
<polygon points="174.7,1565 219.7,1542.5 219.7,1550.5 174.7,1573" fill="#b88848"/>
<polygon points="129.7,1542.5 174.7,1520 219.7,1542.5 174.7,1565" fill="#c8a264"/>
<polygon points="149.4,1536.9 174.7,1549.5 174.7,1556.5 149.4,1543.9" fill="#a87a3a"/>
<polygon points="174.7,1549.5 200,1536.9 200,1543.9 174.7,1556.5" fill="#b88848"/>
<polygon points="149.4,1536.9 174.7,1524.2 200,1536.9 174.7,1549.5" fill="#d0aa6c"/>
<rect x="170.5" y="1370.9" width="4.2" height="165.9" fill="#f8a41c"/>
<rect x="174.7" y="1370.9" width="4.2" height="165.9" fill="#ffc62c"/>
<polygon points="129.7,1349.8 170.5,1372.3 170.5,1403.3 129.7,1376.6" fill="#f06a30"/>
<polygon points="129.4,1351.3 135.6,1347 175,1370.6 170,1373.8" fill="#f2982c"/>
<polygon points="164.2,1374 164.4,1377 167.2,1377.9 164.4,1379 164.4,1382 162.5,1379.6 159.6,1380.5 161.3,1378 159.6,1375.6 162.5,1376.4" fill="#fff"/>
<circle cx="152.2" cy="1370.4" r="0.7" fill="#fff"/>
<circle cx="154.4" cy="1373.7" r="0.7" fill="#fff"/>
<circle cx="155" cy="1377.7" r="0.7" fill="#fff"/>
<circle cx="152.7" cy="1381.1" r="0.7" fill="#fff"/>
<polygon points="208.4,1468 220.2,1469.9 220.2,1482 207,1484 199.4,1480.6 200,1477.2" fill="#5a2a1c"/>
<polygon points="199.4,1421.6 222.5,1424.4 223.9,1463.7 218.3,1472.2 207,1469.9 202.8,1446.9" fill="#8794a6"/>
<polygon points="196.6,1373.7 207,1367.6 221.1,1368.1 228.1,1378 228.1,1424.4 198.6,1424.4" fill="#8794a6"/>
<polygon points="190.4,1372.6 201.4,1356.9 206.2,1359.7 199.4,1378" fill="#8794a6"/>
<g clip-path="url(#sc1)">
<ellipse cx="195.6" cy="1438.3" rx="5.3" ry="2.7" fill="#56657c" transform="rotate(-8 195.6 1438.3)"/>
<ellipse cx="202.6" cy="1366.6" rx="4.4" ry="3.9" fill="#c4ccd8" transform="rotate(10 202.6 1366.6)"/>
<ellipse cx="206.5" cy="1461.8" rx="4" ry="4.5" fill="#1c2438" transform="rotate(5 206.5 1461.8)"/>
<ellipse cx="222.2" cy="1399.4" rx="5.8" ry="2.4" fill="#56657c" transform="rotate(30 222.2 1399.4)"/>
<ellipse cx="216.8" cy="1389.6" rx="5.8" ry="2.3" fill="#1c2438" transform="rotate(3 216.8 1389.6)"/>
<ellipse cx="192.6" cy="1389.5" rx="4.8" ry="4.8" fill="#c4ccd8" transform="rotate(16 192.6 1389.5)"/>
<ellipse cx="225.6" cy="1369" rx="6" ry="2.3" fill="#56657c" transform="rotate(35 225.6 1369)"/>
<ellipse cx="215.8" cy="1399.8" rx="6.2" ry="3.3" fill="#1c2438" transform="rotate(-16 215.8 1399.8)"/>
<ellipse cx="201.8" cy="1429.4" rx="6.5" ry="3.4" fill="#c4ccd8" transform="rotate(-27 201.8 1429.4)"/>
<ellipse cx="196.2" cy="1472.1" rx="4.3" ry="2" fill="#1c2438" transform="rotate(12 196.2 1472.1)"/>
<ellipse cx="195.9" cy="1418.2" rx="4.9" ry="4.7" fill="#1c2438" transform="rotate(-19 195.9 1418.2)"/>
<ellipse cx="211.9" cy="1410.1" rx="5" ry="3.1" fill="#c4ccd8" transform="rotate(-28 211.9 1410.1)"/>
<ellipse cx="201.3" cy="1403.2" rx="6.7" ry="4.6" fill="#c4ccd8" transform="rotate(-32 201.3 1403.2)"/>
<ellipse cx="213.2" cy="1414" rx="5.5" ry="2" fill="#1c2438" transform="rotate(11 213.2 1414)"/>
<ellipse cx="227.4" cy="1406.5" rx="6.1" ry="3" fill="#1c2438" transform="rotate(20 227.4 1406.5)"/>
<ellipse cx="201.6" cy="1392.7" rx="3.3" ry="3.5" fill="#1c2438" transform="rotate(-8 201.6 1392.7)"/>
<ellipse cx="195.2" cy="1369.4" rx="4.4" ry="4.7" fill="#1c2438" transform="rotate(35 195.2 1369.4)"/>
<ellipse cx="210.8" cy="1417.7" rx="7.3" ry="2.3" fill="#1c2438" transform="rotate(-22 210.8 1417.7)"/>
<ellipse cx="221" cy="1358.5" rx="6.8" ry="2.7" fill="#1c2438" transform="rotate(-9 221 1358.5)"/>
<ellipse cx="199.4" cy="1435.7" rx="4.3" ry="4.1" fill="#1c2438" transform="rotate(7 199.4 1435.7)"/>
<ellipse cx="192.7" cy="1463.2" rx="7.1" ry="4.1" fill="#56657c" transform="rotate(25 192.7 1463.2)"/>
<ellipse cx="216" cy="1380.8" rx="4.7" ry="4.7" fill="#c4ccd8" transform="rotate(29 216 1380.8)"/>
<ellipse cx="212.6" cy="1461.9" rx="7" ry="3.7" fill="#c4ccd8" transform="rotate(-9 212.6 1461.9)"/>
<ellipse cx="216" cy="1407.2" rx="3.5" ry="4.2" fill="#1c2438" transform="rotate(-24 216 1407.2)"/>
<ellipse cx="199.2" cy="1437.1" rx="4" ry="3.3" fill="#1c2438" transform="rotate(-24 199.2 1437.1)"/>
<ellipse cx="212.2" cy="1401.6" rx="4.2" ry="3" fill="#1c2438" transform="rotate(14 212.2 1401.6)"/>
<ellipse cx="207.4" cy="1408.9" rx="3.7" ry="4" fill="#1c2438" transform="rotate(-22 207.4 1408.9)"/>
<ellipse cx="192.2" cy="1461.7" rx="6.7" ry="4.3" fill="#56657c" transform="rotate(36 192.2 1461.7)"/>
<ellipse cx="216.5" cy="1421.8" rx="5.5" ry="3.3" fill="#1c2438" transform="rotate(20 216.5 1421.8)"/>
<ellipse cx="203.8" cy="1367" rx="3.4" ry="3.9" fill="#1c2438" transform="rotate(29 203.8 1367)"/>
<ellipse cx="222.8" cy="1463.1" rx="4.9" ry="4.7" fill="#1c2438" transform="rotate(-34 222.8 1463.1)"/>
<ellipse cx="223" cy="1464.3" rx="3.1" ry="3.9" fill="#1c2438" transform="rotate(-35 223 1464.3)"/>
<ellipse cx="196.7" cy="1401.5" rx="3.7" ry="4.5" fill="#c4ccd8" transform="rotate(19 196.7 1401.5)"/>
<ellipse cx="221.3" cy="1414.7" rx="3.2" ry="2.2" fill="#c4ccd8" transform="rotate(-6 221.3 1414.7)"/>
<ellipse cx="201" cy="1435.9" rx="5.2" ry="3.5" fill="#56657c" transform="rotate(-10 201 1435.9)"/>
<ellipse cx="219.1" cy="1359.2" rx="6.9" ry="4.4" fill="#1c2438" transform="rotate(10 219.1 1359.2)"/>
<ellipse cx="206.1" cy="1391.7" rx="7" ry="2.1" fill="#56657c" transform="rotate(-23 206.1 1391.7)"/>
<ellipse cx="202.3" cy="1422.8" rx="4.4" ry="2.6" fill="#56657c" transform="rotate(34 202.3 1422.8)"/>
<ellipse cx="223.3" cy="1408.7" rx="3.4" ry="3.2" fill="#56657c" transform="rotate(33 223.3 1408.7)"/>
<ellipse cx="206.2" cy="1426.8" rx="6" ry="4.7" fill="#1c2438" transform="rotate(13 206.2 1426.8)"/>
<ellipse cx="228.4" cy="1447.4" rx="6.7" ry="3.3" fill="#c4ccd8" transform="rotate(9 228.4 1447.4)"/>
<ellipse cx="222.5" cy="1469.2" rx="6.6" ry="2.5" fill="#1c2438" transform="rotate(-31 222.5 1469.2)"/>
<ellipse cx="200.9" cy="1368.6" rx="5.4" ry="2" fill="#56657c" transform="rotate(37 200.9 1368.6)"/>
<ellipse cx="216.2" cy="1446.5" rx="5" ry="4.5" fill="#c4ccd8" transform="rotate(-32 216.2 1446.5)"/>
<ellipse cx="215.3" cy="1438.4" rx="6.1" ry="3.3" fill="#1c2438" transform="rotate(-15 215.3 1438.4)"/>
<ellipse cx="206.2" cy="1426.9" rx="4" ry="3.9" fill="#c4ccd8" transform="rotate(2 206.2 1426.9)"/>
<ellipse cx="210.5" cy="1452.6" rx="3.3" ry="3.7" fill="#1c2438" transform="rotate(18 210.5 1452.6)"/>
<ellipse cx="196.6" cy="1455.9" rx="5.1" ry="2.8" fill="#1c2438" transform="rotate(-34 196.6 1455.9)"/>
<ellipse cx="197.4" cy="1417.6" rx="4.4" ry="3" fill="#56657c" transform="rotate(-3 197.4 1417.6)"/>
<ellipse cx="205.6" cy="1467.5" rx="3.6" ry="4.8" fill="#1c2438" transform="rotate(-14 205.6 1467.5)"/>
<ellipse cx="210.8" cy="1365.9" rx="6.8" ry="2.6" fill="#1c2438" transform="rotate(-1 210.8 1365.9)"/>
<ellipse cx="223.8" cy="1425.6" rx="6.5" ry="2.5" fill="#c4ccd8" transform="rotate(-9 223.8 1425.6)"/>
<ellipse cx="224" cy="1421.6" rx="4.5" ry="3.4" fill="#1c2438" transform="rotate(15 224 1421.6)"/>
<ellipse cx="195.7" cy="1362.9" rx="3.8" ry="2.5" fill="#1c2438" transform="rotate(-15 195.7 1362.9)"/>
<ellipse cx="195.9" cy="1455" rx="7" ry="2.8" fill="#1c2438" transform="rotate(16 195.9 1455)"/>
<ellipse cx="195.8" cy="1446.5" rx="7.3" ry="3.7" fill="#c4ccd8" transform="rotate(-31 195.8 1446.5)"/>
<ellipse cx="218.3" cy="1420.4" rx="3.3" ry="3.5" fill="#1c2438" transform="rotate(29 218.3 1420.4)"/>
<ellipse cx="212" cy="1443.9" rx="3.9" ry="2.2" fill="#c4ccd8" transform="rotate(6 212 1443.9)"/>
<ellipse cx="224.3" cy="1429.6" rx="3.4" ry="4.1" fill="#1c2438" transform="rotate(-29 224.3 1429.6)"/>
<ellipse cx="224.7" cy="1424.5" rx="6.9" ry="2.3" fill="#1c2438" transform="rotate(20 224.7 1424.5)"/>
</g>
<polygon points="221.1,1370.9 230.4,1379.4 225.9,1424.4 218.3,1423" fill="#56657c" opacity="0.55"/>
<circle cx="222.5" cy="1424.9" r="2.6" fill="#e8c8a0"/>
<polygon points="204.2,1355.5 218.3,1354.1 219.1,1366.7 211.2,1369.5 205.1,1365.9" fill="#e8c8a0"/>
<polygon points="209.8,1354.1 219.1,1353.5 219.7,1362.5 214.6,1361.1" fill="#1c2438"/>
<polygon points="202.2,1351.2 218.3,1348.4 219.7,1356.3 202.8,1357.4" fill="#56657c"/>
<polygon points="199.4,1356.3 207,1355.5 207,1357.7 199.4,1358.6" fill="#1c2438"/>
<polygon points="242.7,1488.2 254.5,1490.2 254.5,1502.3 241.3,1504.2 233.7,1500.9 234.3,1497.5" fill="#5a2a1c"/>
<polygon points="233.7,1441.8 256.8,1444.6 258.2,1484 252.6,1492.4 241.3,1490.2 237.1,1467.1" fill="#8794a6"/>
<polygon points="230.9,1394 241.3,1387.8 255.4,1388.4 262.4,1398.2 262.4,1444.6 232.9,1444.6" fill="#8794a6"/>
<polygon points="224.7,1392.9 235.7,1377.1 240.5,1379.9 233.7,1398.2" fill="#8794a6"/>
<g clip-path="url(#sc2)">
<ellipse cx="240.2" cy="1484.1" rx="4" ry="4.4" fill="#1c2438" transform="rotate(20 240.2 1484.1)"/>
<ellipse cx="227.5" cy="1487.1" rx="3.2" ry="3.6" fill="#1c2438" transform="rotate(-28 227.5 1487.1)"/>
<ellipse cx="248.2" cy="1392.7" rx="6.2" ry="2.5" fill="#56657c" transform="rotate(39 248.2 1392.7)"/>
<ellipse cx="237.8" cy="1483.1" rx="4.6" ry="3.3" fill="#c4ccd8" transform="rotate(-27 237.8 1483.1)"/>
<ellipse cx="259.4" cy="1473.5" rx="3.5" ry="3.6" fill="#56657c" transform="rotate(13 259.4 1473.5)"/>
<ellipse cx="239.3" cy="1455.5" rx="5" ry="2.2" fill="#c4ccd8" transform="rotate(32 239.3 1455.5)"/>
<ellipse cx="228.5" cy="1450.9" rx="6.8" ry="2.1" fill="#56657c" transform="rotate(-18 228.5 1450.9)"/>
<ellipse cx="228.8" cy="1444.8" rx="6.7" ry="3.2" fill="#c4ccd8" transform="rotate(23 228.8 1444.8)"/>
<ellipse cx="249.1" cy="1453" rx="3.3" ry="4.3" fill="#c4ccd8" transform="rotate(-4 249.1 1453)"/>
<ellipse cx="232.3" cy="1491" rx="5.7" ry="3.3" fill="#c4ccd8" transform="rotate(21 232.3 1491)"/>
<ellipse cx="261.5" cy="1427.4" rx="4.6" ry="2.1" fill="#c4ccd8" transform="rotate(-24 261.5 1427.4)"/>
<ellipse cx="230.6" cy="1405.2" rx="6.8" ry="4.1" fill="#1c2438" transform="rotate(-12 230.6 1405.2)"/>
<ellipse cx="261" cy="1479.2" rx="4" ry="3.7" fill="#1c2438" transform="rotate(39 261 1479.2)"/>
<ellipse cx="255.8" cy="1438.1" rx="4.4" ry="3.4" fill="#1c2438" transform="rotate(18 255.8 1438.1)"/>
<ellipse cx="243.6" cy="1426.6" rx="4.6" ry="4.7" fill="#c4ccd8" transform="rotate(-26 243.6 1426.6)"/>
<ellipse cx="258.8" cy="1408.6" rx="6.5" ry="4" fill="#1c2438" transform="rotate(32 258.8 1408.6)"/>
<ellipse cx="256.7" cy="1482.5" rx="3.2" ry="4.1" fill="#c4ccd8" transform="rotate(-7 256.7 1482.5)"/>
<ellipse cx="245.4" cy="1463" rx="5.6" ry="2.1" fill="#1c2438" transform="rotate(26 245.4 1463)"/>
<ellipse cx="256.7" cy="1459.8" rx="4.2" ry="4.6" fill="#1c2438" transform="rotate(38 256.7 1459.8)"/>
<ellipse cx="238" cy="1390.1" rx="7.2" ry="3.9" fill="#56657c" transform="rotate(-21 238 1390.1)"/>
<ellipse cx="246.5" cy="1393" rx="7.2" ry="2.2" fill="#1c2438" transform="rotate(32 246.5 1393)"/>
<ellipse cx="234.1" cy="1441.4" rx="6.9" ry="2.5" fill="#56657c" transform="rotate(-31 234.1 1441.4)"/>
<ellipse cx="249.2" cy="1380.3" rx="3.8" ry="4.2" fill="#56657c" transform="rotate(-7 249.2 1380.3)"/>
<ellipse cx="228.7" cy="1389.2" rx="4.3" ry="3.3" fill="#1c2438" transform="rotate(-3 228.7 1389.2)"/>
<ellipse cx="256" cy="1420.1" rx="4.2" ry="4.4" fill="#1c2438" transform="rotate(-5 256 1420.1)"/>
<ellipse cx="258.5" cy="1383" rx="3.1" ry="2.8" fill="#1c2438" transform="rotate(37 258.5 1383)"/>
<ellipse cx="263.1" cy="1417.5" rx="7.1" ry="2.6" fill="#c4ccd8" transform="rotate(17 263.1 1417.5)"/>
<ellipse cx="239.5" cy="1435.7" rx="5" ry="2.8" fill="#1c2438" transform="rotate(-21 239.5 1435.7)"/>
<ellipse cx="239.5" cy="1386.5" rx="5.8" ry="4.6" fill="#1c2438" transform="rotate(34 239.5 1386.5)"/>
<ellipse cx="240.8" cy="1379.9" rx="5.9" ry="4" fill="#1c2438" transform="rotate(40 240.8 1379.9)"/>
<ellipse cx="237.8" cy="1481.4" rx="3.4" ry="3" fill="#1c2438" transform="rotate(-27 237.8 1481.4)"/>
<ellipse cx="230.1" cy="1442.6" rx="3.2" ry="4" fill="#c4ccd8" transform="rotate(23 230.1 1442.6)"/>
<ellipse cx="228.1" cy="1489" rx="6.5" ry="2.5" fill="#1c2438" transform="rotate(-32 228.1 1489)"/>
<ellipse cx="244.1" cy="1398.8" rx="6.4" ry="4.5" fill="#c4ccd8" transform="rotate(-20 244.1 1398.8)"/>
<ellipse cx="240.5" cy="1420.3" rx="3.3" ry="2.2" fill="#1c2438" transform="rotate(24 240.5 1420.3)"/>
<ellipse cx="246.4" cy="1439.7" rx="3.4" ry="3" fill="#1c2438" transform="rotate(17 246.4 1439.7)"/>
<ellipse cx="228.4" cy="1452.3" rx="4.7" ry="4.2" fill="#1c2438" transform="rotate(-24 228.4 1452.3)"/>
<ellipse cx="244.9" cy="1410.6" rx="6" ry="2.5" fill="#c4ccd8" transform="rotate(19 244.9 1410.6)"/>
<ellipse cx="240.9" cy="1414.1" rx="6.9" ry="2.5" fill="#1c2438" transform="rotate(14 240.9 1414.1)"/>
<ellipse cx="254.5" cy="1415.4" rx="4.1" ry="2.6" fill="#56657c" transform="rotate(-6 254.5 1415.4)"/>
<ellipse cx="242" cy="1472.5" rx="4.6" ry="4.4" fill="#c4ccd8" transform="rotate(-14 242 1472.5)"/>
<ellipse cx="238.9" cy="1432.7" rx="5.3" ry="3.9" fill="#1c2438" transform="rotate(-26 238.9 1432.7)"/>
<ellipse cx="246.5" cy="1408.3" rx="3.7" ry="3.8" fill="#c4ccd8" transform="rotate(-38 246.5 1408.3)"/>
<ellipse cx="261.7" cy="1426.2" rx="4.2" ry="2.9" fill="#c4ccd8" transform="rotate(-36 261.7 1426.2)"/>
<ellipse cx="228.3" cy="1427.5" rx="4.1" ry="3.5" fill="#c4ccd8" transform="rotate(-6 228.3 1427.5)"/>
<ellipse cx="240.5" cy="1379.5" rx="3.4" ry="2.6" fill="#1c2438" transform="rotate(-34 240.5 1379.5)"/>
<ellipse cx="261.7" cy="1379.1" rx="5.1" ry="3.6" fill="#1c2438" transform="rotate(-28 261.7 1379.1)"/>
<ellipse cx="259" cy="1480.2" rx="7" ry="4.6" fill="#c4ccd8" transform="rotate(-27 259 1480.2)"/>
<ellipse cx="245.8" cy="1433.9" rx="5.3" ry="4.1" fill="#c4ccd8" transform="rotate(33 245.8 1433.9)"/>
<ellipse cx="263.8" cy="1435.9" rx="4.2" ry="3" fill="#1c2438" transform="rotate(14 263.8 1435.9)"/>
<ellipse cx="227.7" cy="1436.1" rx="6.3" ry="2.4" fill="#56657c" transform="rotate(-26 227.7 1436.1)"/>
<ellipse cx="243.8" cy="1491.5" rx="3.2" ry="3.6" fill="#1c2438" transform="rotate(29 243.8 1491.5)"/>
<ellipse cx="242.6" cy="1410.3" rx="7.2" ry="3.6" fill="#c4ccd8" transform="rotate(-33 242.6 1410.3)"/>
<ellipse cx="245.3" cy="1444.2" rx="3.8" ry="4.8" fill="#1c2438" transform="rotate(28 245.3 1444.2)"/>
<ellipse cx="237.9" cy="1458.9" rx="3.2" ry="2.8" fill="#56657c" transform="rotate(3 237.9 1458.9)"/>
<ellipse cx="247.9" cy="1438.9" rx="6" ry="3.7" fill="#1c2438" transform="rotate(-25 247.9 1438.9)"/>
<ellipse cx="250.9" cy="1439.4" rx="6.2" ry="3" fill="#c4ccd8" transform="rotate(-37 250.9 1439.4)"/>
<ellipse cx="231" cy="1425.8" rx="4.1" ry="4.1" fill="#1c2438" transform="rotate(-25 231 1425.8)"/>
<ellipse cx="241" cy="1418.9" rx="4.4" ry="2" fill="#c4ccd8" transform="rotate(-27 241 1418.9)"/>
<ellipse cx="250.3" cy="1456.6" rx="6.6" ry="2.2" fill="#c4ccd8" transform="rotate(39 250.3 1456.6)"/>
</g>
<polygon points="255.4,1391.2 264.7,1399.6 260.2,1444.6 252.6,1443.2" fill="#56657c" opacity="0.55"/>
<circle cx="256.8" cy="1445.2" r="2.6" fill="#e8c8a0"/>
<polygon points="238.5,1375.7 252.6,1374.3 253.4,1387 245.5,1389.8 239.4,1386.1" fill="#e8c8a0"/>
<polygon points="244.1,1374.3 253.4,1373.7 254,1382.7 248.9,1381.3" fill="#1c2438"/>
<polygon points="236.5,1371.5 252.6,1368.7 254,1376.6 237.1,1377.7" fill="#56657c"/>
<polygon points="233.7,1376.6 241.3,1375.7 241.3,1378 233.7,1378.8" fill="#1c2438"/>
<path d="M142.2 1627Q128.3 1619 142 1610.8L308.1 1511.7Q325.3 1501.5 342.6 1511.5L537.1 1624Q551 1632 537.3 1640.2L371.2 1739.3Q354 1749.5 336.7 1739.5ZM142.2 1624.5Q128.3 1616.5 142 1608.3L308.1 1509.2Q325.3 1499 342.6 1509L537.1 1621.5Q551 1629.5 537.3 1637.7L371.2 1736.8Q354 1747 336.7 1737Z" fill="#1d9450"/>
<path d="M142.2 1622Q128.3 1614 142 1605.8L308.1 1506.7Q325.3 1496.5 342.6 1506.5L537.1 1619Q551 1627 537.3 1635.2L371.2 1734.3Q354 1744.5 336.7 1734.5Z" fill="url(#pg)"/>
<polygon points="260,1395 357.5,1442.5 378.5,1435 281,1387.5" fill="url(#g14)"/>
<polygon points="357.5,1442.5 378.5,1435 378.5,1555 357.5,1562.5" fill="url(#g15)"/>
<polygon points="282,1430.2 303,1440.4 303,1491.2 282,1498.7" fill="#2aae86"/>
<path d="M288,1488 L288,1474 Q288,1466 293,1466 Q299,1467 299,1476 L299,1484 Z" fill="#8be23a"/>
<polygon points="282,1498.7 303,1491.2 336,1507.3 336,1525" fill="#18a5aa"/>
<polygon points="282,1525.7 303,1518.2 303,1588.2 282,1595.7" fill="url(#g16)"/>
<polygon points="282,1595.7 303,1588.2 378.5,1625 357.5,1632.5" fill="#1fa6a0"/>
<polygon points="357.5,1632.5 378.5,1625 378.5,1651 357.5,1658.5" fill="#3cb470"/>
<path d="M260 1395 L357.5 1442.5 L357.5 1562.5 L282 1525.7 L282 1595.7 L357.5 1632.5 L357.5 1658.5 L260 1611Z M282 1430.2 L282 1498.7 L336 1525 L336 1456.5Z" fill="url(#g17)" fill-rule="evenodd"/>
<ellipse cx="259.1" cy="1668.9" rx="5.5" ry="3.5" fill="#d8e8ff"/>
<ellipse cx="270.4" cy="1679.8" rx="5" ry="8" fill="#e4eeff" transform="rotate(35 270.4 1679.8)"/>
<polygon points="251.4,1597.4 280.5,1597.4 278.8,1640 275.5,1672.8 268.9,1672.8 266.7,1640 263.4,1666.3 256.4,1666.3 253.6,1631.3" fill="#4c8c7c"/>
<path d="M265.8 1550Q265.6 1547 268.6 1547.7L281.3 1550.7Q284.2 1551.4 284.4 1554.4L285.6 1580.1Q285.8 1583.1 282.8 1583L270.8 1582.2Q267.8 1582 267.6 1579Z" fill="#3a3230"/>
<polygon points="252.5,1551.4 267.8,1549.2 279.9,1563.4 281.4,1597.4 251.4,1599.5 244.8,1565.6" fill="#7a7a7a"/>
<polygon points="269.6,1551.4 274.4,1552.5 270,1578.8 264.8,1576.6" fill="#3a3230"/>
<polygon points="267.8,1579.9 277,1581.4 273.3,1596.3 253.6,1598 252.5,1591.9 265.6,1588.6" fill="#dce4f2"/>
<polygon points="244.8,1567.8 249.2,1572.2 242.7,1583.1 239.4,1578.8" fill="#dce4f2"/>
<polygon points="206.6,1584.9 232.8,1577 259.5,1587.5 232.8,1602.8" fill="#3c8cd0"/>
<polygon points="208.3,1584.2 232.8,1576.6 244.8,1581.4 220.8,1590.1" fill="#f0f4fa"/>
<polygon points="220.8,1590.1 244.8,1581.4 258,1587.1 232.8,1601.1" fill="#fafcff"/>
<circle cx="242.7" cy="1591.9" r="4.2" fill="#f5c8a0"/>
<polygon points="252.5,1547 263.4,1547 265.6,1554.7 254.7,1557.3" fill="#f5c8a0"/>
<ellipse cx="257.3" cy="1543.8" rx="9" ry="10" fill="#f5c8a0"/>
<polygon points="244.8,1532.8 262.3,1532.8 262.3,1538.3 244.8,1537.2" fill="#f8d848"/>
<path d="M244.2 1533.3 Q243.8 1521.9 255.8 1517.1 Q257.3 1513.6 262.3 1514.4 Q266.7 1513.6 269.6 1515.8 Q273.3 1517.9 271.3 1521.9 Q270.4 1530.6 268.3 1540.5 Q265.6 1535 262.3 1532.8 Q252.5 1532.8 244.2 1533.3 Z" fill="#b8482a"/>
<path d="M245.5 1538.7 L252.5 1538.3 L252.9 1543.3 L245.9 1543.3 ZM254.7 1538.5 L261.7 1536.3 L262.3 1541.1 L255.1 1543.1 Z" fill="none" stroke="#111" stroke-width="1.1"/>
<polygon points="445.1,1587.5 457.8,1591.7 457.8,1667.6 452.2,1666.2 451.6,1604.4 445.1,1601.6" fill="#22282e"/>
<rect x="419.8" y="1660.6" width="4" height="26" fill="#22282e"/>
<rect x="339.7" y="1618.4" width="3.9" height="46.4" fill="#a8a8b4"/>
<rect x="411.4" y="1667.6" width="4.2" height="39.4" fill="#a8a8b4"/>
<rect x="438.1" y="1650.8" width="3.9" height="38" fill="#a8a8b4"/>
<rect x="365" y="1631.1" width="3.4" height="18.3" fill="#a8a8b4"/>
<line x1="341.7" y1="1662" x2="370.6" y2="1646.5" stroke="#a8a8b4" stroke-width="2.5"/>
<line x1="413.4" y1="1704.2" x2="440.4" y2="1687.3" stroke="#a8a8b4" stroke-width="2.5"/>
<polygon points="335.5,1607.2 412.8,1653.6 412.8,1669 335.5,1620.7" fill="#5eb4bc"/>
<polygon points="412.8,1653.6 447.1,1638.1 447.1,1651.6 412.8,1669" fill="#7cccd4"/>
<polygon points="335.5,1607.2 370.6,1592.6 447.1,1638.1 412.8,1653.6" fill="#90e2ea"/>
<ellipse cx="390.9" cy="1667.6" rx="11" ry="6" fill="#5a2a1c"/>
<ellipse cx="404.9" cy="1678" rx="6" ry="9" fill="#5a2a1c"/>
<polygon points="419.8,1617 446.5,1618.4 449.9,1632.5 438.1,1640.9 418.4,1631.1" fill="#c8a862"/>
<polygon points="412.8,1576.2 432.5,1574.8 445.1,1587.5 444.3,1618.4 418.4,1619.8 410,1604.4" fill="#3e3e40"/>
<polygon points="412.8,1580.5 417,1600.1 393.7,1604.4 392.6,1600.1" fill="#3e3e40"/>
<polygon points="438.1,1590.3 445.1,1593.1 443.7,1617 419,1624.6 417,1619 436.7,1611.4" fill="#4a4a4c"/>
<polygon points="415.6,1575.7 432.5,1574 428.3,1586.1 419,1593.7 417,1604.4" fill="#f8f8f8"/>
<polygon points="418.4,1585.2 420.7,1585.2 419,1603 417.6,1603" fill="#333"/>
<circle cx="390.3" cy="1607.7" r="3.6" fill="#f5d0b0"/>
<circle cx="415.6" cy="1619.8" r="3.6" fill="#f5d0b0"/>
<ellipse cx="419.8" cy="1566.4" rx="8.5" ry="12" fill="#f5d0b0"/>
<path d="M411.1 1559.9 Q411.7 1548.1 423.5 1546.7 Q434.7 1547.6 433.6 1562.2 Q433 1569.2 430.2 1572.9 L427.4 1567.8 Q428 1562.2 424.6 1558 Q418.4 1556 415.1 1559.4 Z" fill="#3a3a3c"/>
<polygon points="362.7,1619 395.9,1607.7 420.7,1627.4 393.7,1638.1" fill="#e05a2c"/>
<polygon points="364.4,1617.9 395.4,1607.7 407.2,1617 380.5,1628.3" fill="#f4f6fa"/>
<polygon points="380.5,1628.3 407.2,1617 419,1626.3 393.7,1635.9" fill="#fbfbfd"/>
<text transform="translate(602,220) scale(-1,1)" font-size="20.5" font-weight="700" fill="#ffffff" text-anchor="start">科研人员</text>
<text transform="translate(611.5,249.7) scale(-1,1.03)" font-size="17.2" font-weight="350" fill="#000" text-anchor="start">开展科研项目经费使用<tspan class="q">“</tspan>包干制<tspan class="q">”</tspan>改革试点</text>
<line x1="280" y1="256.5" x2="612" y2="256.5" stroke="#43802a" stroke-width="1.1"/>
<line x1="485" y1="256.5" x2="453" y2="322" stroke="#43802a" stroke-width="1.1"/>
<text transform="translate(271,326) scale(-1,1.03)" font-size="17.2" font-weight="350" fill="#000" text-anchor="start">继续提高退休人员基本养老金</text>
<line x1="40" y1="334.5" x2="271" y2="334.5" stroke="#43802a" stroke-width="1.1"/>
<line x1="140.5" y1="334.5" x2="127.5" y2="388" stroke="#43802a" stroke-width="1.1"/>
<line x1="454.5" y1="692.5" x2="628" y2="692.5" stroke="#43802a" stroke-width="1.1"/>
<line x1="525" y1="692.5" x2="466" y2="651" stroke="#43802a" stroke-width="1.1"/>
<text transform="translate(626.3,715) scale(-1,1.03)" font-size="17.2" font-weight="350" fill="#000" text-anchor="start">继续增加重点高校专项</text>
<text transform="translate(626.3,737.3) scale(-1,1.03)" font-size="17.2" font-weight="350" fill="#000" text-anchor="start">招收农村和贫困地区学生人数</text>
<text transform="translate(238,725) scale(-1,1.03)" font-size="17.2" font-weight="350" fill="#000" text-anchor="start">设立中等职业教育国家奖学金</text>
<text transform="translate(238,746.7) scale(-1,1.03)" font-size="17.2" font-weight="350" fill="#000" text-anchor="start">扩大高职院校奖助学金覆盖面、</text>
<text transform="translate(238,768) scale(-1,1.03)" font-size="17.2" font-weight="350" fill="#000" text-anchor="start">提高补助标准</text>
<line x1="15" y1="776.5" x2="238" y2="776.5" stroke="#43802a" stroke-width="1.1"/>
<line x1="140" y1="776.5" x2="158" y2="818" stroke="#43802a" stroke-width="1.1"/>
<line x1="378.4" y1="975" x2="474.5" y2="1004.5" stroke="#43802a" stroke-width="1.1"/>
<line x1="474.5" y1="1004.5" x2="622" y2="1004.5" stroke="#43802a" stroke-width="1.1"/>
<text transform="translate(621.3,1030) scale(-1,1.03)" font-size="17.2" font-weight="350" fill="#000" text-anchor="start">持续抓好义务教育</text>
<text transform="translate(621.3,1051.7) scale(-1,1.03)" font-size="17.2" font-weight="350" fill="#000" text-anchor="start">教师工资待遇落实</text>
<text transform="translate(190,1069) scale(-1,1.03)" font-size="17.2" font-weight="350" fill="#000" text-anchor="start">提高<tspan class="q">6000</tspan>万农村人口</text>
<text transform="translate(190,1091.5) scale(-1,1.03)" font-size="17.2" font-weight="350" fill="#000" text-anchor="start">供水保障水平</text>
<line x1="33" y1="1098.5" x2="190" y2="1098.5" stroke="#43802a" stroke-width="1.1"/>
<line x1="190" y1="1098.5" x2="204" y2="1128" stroke="#43802a" stroke-width="1.1"/>
<text transform="translate(178.2,1336.1) scale(-1,1.03)" font-size="17.2" font-weight="350" fill="#000" text-anchor="start">落实退役军人待遇保障</text>
<line x1="5" y1="1340.5" x2="178.2" y2="1340.5" stroke="#43802a" stroke-width="1.1"/>
<line x1="178.2" y1="1340.5" x2="182" y2="1358" stroke="#43802a" stroke-width="1.1"/>
<line x1="454" y1="1386" x2="497" y2="1454" stroke="#43802a" stroke-width="1.1"/>
<line x1="428" y1="1454.5" x2="614" y2="1454.5" stroke="#43802a" stroke-width="1.1"/>
<text transform="translate(610.1,1478) scale(-1,1.03)" font-size="17.2" font-weight="350" fill="#000" text-anchor="start">改造提升城镇老旧小区，</text>
<text transform="translate(610.1,1499.6) scale(-1,1.03)" font-size="17.2" font-weight="350" fill="#000" text-anchor="start">支持加装电梯</text>
<line x1="246" y1="1675" x2="220.6" y2="1724" stroke="#43802a" stroke-width="1.1"/>
<line x1="77" y1="1724.5" x2="246" y2="1724.5" stroke="#43802a" stroke-width="1.1"/>
<text transform="translate(243.2,1749.8) scale(-1,1.03)" font-size="17.2" font-weight="350" fill="#000" text-anchor="start">优化归国留学人员和</text>
<text transform="translate(243.2,1771.7) scale(-1,1.03)" font-size="17.2" font-weight="350" fill="#000" text-anchor="start">外籍人才服务</text>
<line x1="457.5" y1="1640" x2="532" y2="1712" stroke="#43802a" stroke-width="1.1"/>
<line x1="447" y1="1712.5" x2="614.5" y2="1712.5" stroke="#43802a" stroke-width="1.1"/>
<text transform="translate(612.4,1737.3) scale(-1,1.03)" font-size="17.2" font-weight="350" fill="#000" text-anchor="start">让干部从文山会海、</text>
<text transform="translate(612.4,1758.8) scale(-1,1.03)" font-size="17.2" font-weight="350" fill="#000" text-anchor="start">迎评迎检、材料报表中解脱出来</text>
<text transform="translate(612.4,1780.9) scale(-1,1.03)" font-size="17.2" font-weight="350" fill="#000" text-anchor="start">将<tspan class="q">2019</tspan>年作为<tspan class="q">“</tspan>基层减负年<tspan class="q">”</tspan></text>
<circle cx="452" cy="328" r="10.5" fill="#3f8a2c"/>
<circle cx="125.5" cy="396" r="10.5" fill="#3f8a2c"/>
<circle cx="464" cy="649" r="11" fill="#3f8a2c"/>
<circle cx="161" cy="825" r="10.5" fill="#3f8a2c"/>
<circle cx="378.4" cy="975" r="11" fill="#3f8a2c"/>
<circle cx="206.3" cy="1132" r="11" fill="#3f8a2c"/>
<circle cx="188" cy="1366.8" r="10.6" fill="#3f8a2c"/>
<circle cx="454" cy="1386" r="11" fill="#3f8a2c"/>
<circle cx="246" cy="1675" r="11" fill="#3f8a2c"/>
<circle cx="457.5" cy="1640" r="11" fill="#3f8a2c"/>
</svg>
</body></html>
